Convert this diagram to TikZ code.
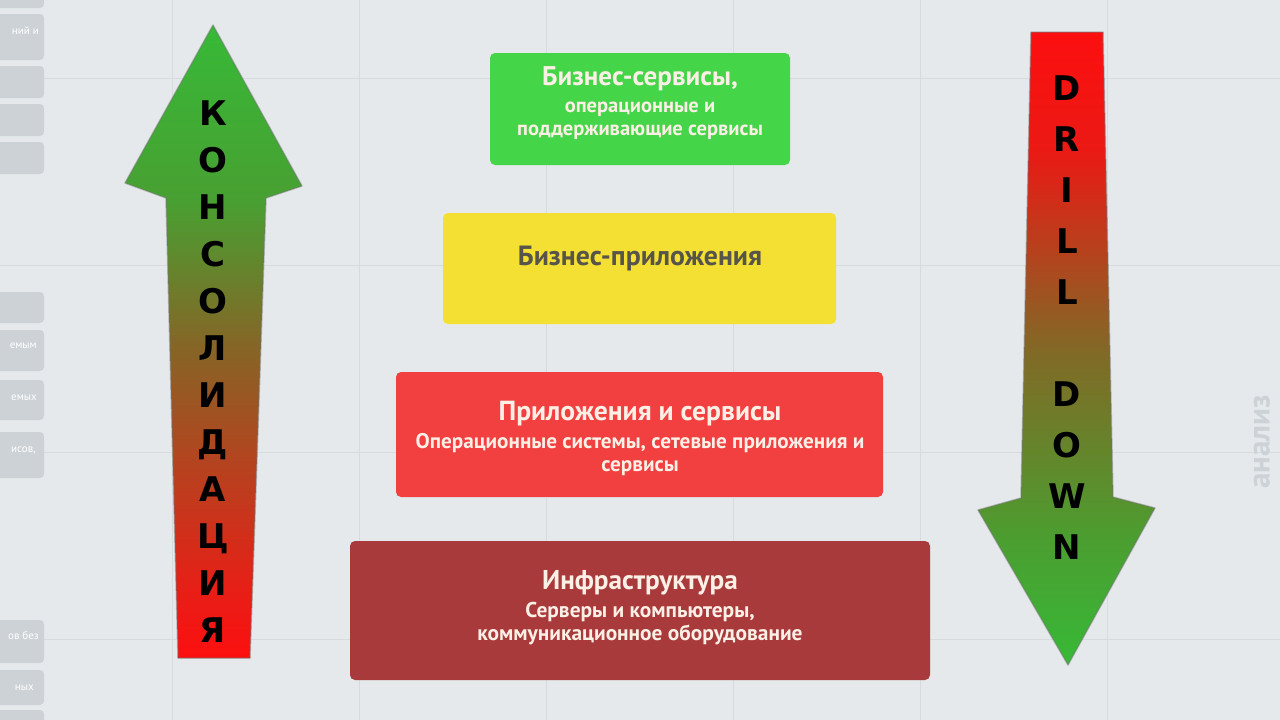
\documentclass[tikz,border=0pt]{standalone}
\usepackage{fontspec}
\setmainfont{PT Sans}
\newfontfamily\arrowfont{DejaVu Sans}
\definecolor{bg}{HTML}{E5E9EC}
\definecolor{gridc}{HTML}{D6DBDF}
\definecolor{sidebox}{HTML}{CDD2D6}
\definecolor{faint}{HTML}{CDD2D6}
\definecolor{boxgreen}{HTML}{45D548}
\definecolor{boxyellow}{HTML}{F4DF33}
\definecolor{boxred}{HTML}{F23F3F}
\definecolor{boxdark}{HTML}{A93A3B}
\definecolor{txtlight}{HTML}{FBEFE6}
\definecolor{txtgray}{HTML}{57544A}
\definecolor{cgA}{RGB}{55,185,55}
\definecolor{cgB}{RGB}{72,160,50}
\definecolor{cgC}{RGB}{75,158,48}
\definecolor{coA}{RGB}{135,100,38}
\definecolor{coB}{RGB}{130,105,38}
\definecolor{crA}{RGB}{235,28,22}
\definecolor{crB}{RGB}{235,25,20}
\definecolor{crX}{RGB}{252,15,15}
\pgfdeclareverticalshading{consolshade}{100bp}{color(0bp)=(crX); color(25bp)=(crX); color(29.6bp)=(crA); color(49.3bp)=(coA); color(61.2bp)=(cgB); color(75bp)=(cgA); color(100bp)=(cgA)}
\pgfdeclareverticalshading{drillshade}{100bp}{color(0bp)=(cgA); color(25bp)=(cgA); color(34.9bp)=(cgC); color(49.9bp)=(coB); color(65.7bp)=(crB); color(75bp)=(crX); color(100bp)=(crX)}
\tikzset{
  layer/.style={draw=none, rounded corners=5pt, inner sep=0pt},
  ttl/.style={font=\bfseries\fontsize{#1}{#1}\selectfont, text=txtlight, anchor=base, inner sep=0pt},
  ttl/.default=27,
  subl/.style={font=\bfseries\fontsize{#1}{#1}\selectfont, text=txtlight, anchor=base, inner sep=0pt},
  subl/.default=21,
  letter/.style={font=\arrowfont\bfseries\fontsize{34}{34}\selectfont, text=black, anchor=base, inner sep=0pt},
  sidetxt/.style={font=\fontsize{11}{11}\selectfont, text=white, anchor=east, inner sep=0pt},
  arrowline/.style={draw=black!55, draw opacity=0.45, line width=1.5pt, line join=round}
}
\begin{document}
\begin{tikzpicture}[x=1pt,y=-1pt]
\useasboundingbox (0,0) rectangle (1280,720);
\fill[bg] (0,0) rectangle (1280,720);
% grid
\foreach \gx in {172,359,546,733,920,1107} \draw[gridc, line width=1pt] (\gx,0) -- (\gx,720);
\foreach \gy in {78,265,452,639} \draw[gridc, line width=1pt] (0,\gy) -- (1280,\gy);
% left side tabs
\foreach \ya/\yb in {-10/8,14/60,66/98,104/136,142/174,292/323,330/371,380/420,432/478,620/663,670/705,710/730}
  \fill[sidebox, rounded corners=4pt] (-10,\ya) rectangle (44,\yb);
\node[sidetxt] (t1) at (39,31) {ний и};
\node[sidetxt] (t2) at (37,346) {емым};
\node[sidetxt] (t3) at (37,398) {емых};
\node[sidetxt] (t4) at (36,450) {исов,};
\node[sidetxt] (t5) at (39,636) {ов без};
\node[sidetxt] (t6) at (34,688) {ных};
% faint rotated text on right
\node[rotate=90, font=\bfseries\fontsize{31}{31}\selectfont, text=faint, inner sep=0pt] (an) at (1262,442) {анализ};

% boxes
\node[layer, fill=boxgreen, minimum width=300pt, minimum height=112pt] (svc) at (640,109) {};
\node[layer, fill=boxyellow, minimum width=393pt, minimum height=111pt] (app) at (639.5,268.5) {};
\node[layer, fill=boxred, minimum width=487pt, minimum height=125pt] (sys) at (639.5,434.5) {};
\node[layer, fill=boxdark, minimum width=580pt, minimum height=139pt] (inf) at (640,610.5) {};

% texts
\node[ttl=27] (svcA) at (640,85) {Бизнес-сервисы,};
\node[subl=20.5] (svcB) at (640,112) {операционные и};
\node[subl=20.5] (svcC) at (640,135) {поддерживающие сервисы};

\node[ttl=27.8, text=txtgray] (appA) at (640,265) {Бизнес-приложения};

\node[ttl=27.6] (sysA) at (640,420) {Приложения и сервисы};
\node[subl=21.2] (sysB) at (640,448) {Операционные системы, сетевые приложения и};
\node[subl=21.2] (sysC) at (640,471) {сервисы};

\node[ttl=27.2] (infA) at (640,589) {Инфраструктура};
\node[subl=21.4] (infB) at (640,617) {Серверы и компьютеры,};
\node[subl=21.4] (infC) at (640,640) {коммуникационное оборудование};

% left arrow (up)
\coordinate (lt) at (213,25);
\coordinate (lrw) at (302,186);
\coordinate (lri) at (266,198);
\coordinate (lrb) at (250,658);
\coordinate (llb) at (178,658);
\coordinate (lli) at (166,198);
\coordinate (llw) at (125,183);
\shade[shading=consolshade]
  (lt) -- (lrw) -- (lri) -- (lrb) -- (llb) -- (lli) -- (llw) -- cycle;
\draw[arrowline] (lt) -- (lrw) -- (lri) -- (lrb) -- (llb) -- (lli) -- (llw) -- cycle;
\foreach \ch [count=\i from 0] in {К,О,Н,С,О,Л,И,Д,А,Ц,И,Я}
  \node[letter] (k\i) at (213,{113+47*\i+12.5}) {\ch};

% right arrow (down)
\coordinate (rtl) at (1031,32);
\coordinate (rtr) at (1103,32);
\coordinate (rri) at (1113,497);
\coordinate (rrw) at (1155,508);
\coordinate (rt) at (1068,665);
\coordinate (rlw) at (978,510);
\coordinate (rli) at (1021,498);
\shade[shading=drillshade]
  (rtl) -- (rtr) -- (rri) -- (rrw) -- (rt) -- (rlw) -- (rli) -- cycle;
\draw[arrowline] (rtl) -- (rtr) -- (rri) -- (rrw) -- (rt) -- (rlw) -- (rli) -- cycle;
\foreach \ch/\i in {D/0,R/1,I/2,L/3,L/4,D/6,O/7,W/8,N/9}
  \node[letter] (d\i) at (1067,{88+51*\i+12.5}) {\ch};
\end{tikzpicture}
\end{document}
